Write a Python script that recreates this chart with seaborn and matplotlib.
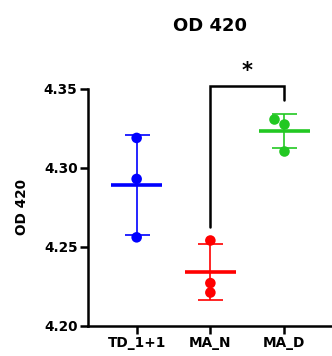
import numpy as np
import pandas as pd
import matplotlib
matplotlib.use("Agg")
import matplotlib.pyplot as plt
import seaborn as sns

groups = ["TD_1+1", "MA_N", "MA_D"]
td_vals = [4.319, 4.293, 4.256]
man_vals = [4.254, 4.227, 4.221]
mad_vals = [4.331, 4.328, 4.311]
colors = ["#0000FF", "#FF0000", "#22C822"]
yticks = [4.20, 4.25, 4.30, 4.35]
title = "OD 420"
ylabel = "OD 420"
sig_label = "*"

df = pd.DataFrame({
    "group": [groups[0]] * len(td_vals) + [groups[1]] * len(man_vals) + [groups[2]] * len(mad_vals),
    "value": td_vals + man_vals + mad_vals,
})

sns.set_style("ticks")
plt.rcParams["font.family"] = ["DejaVu Sans"]
plt.rcParams["font.weight"] = "bold"
plt.rcParams["text.color"] = "black"
plt.rcParams["axes.labelcolor"] = "black"
plt.rcParams["xtick.color"] = "black"
plt.rcParams["ytick.color"] = "black"

fig = plt.figure(figsize=(3.32, 3.56), dpi=100)
ax = fig.add_axes([88 / 332, 1 - 325.7 / 356, (332 - 88) / 332, (325.7 - 89) / 356])

mask_d = df["group"] == groups[2]
sns.stripplot(data=df[~mask_d], x="group", y="value", hue="group", palette=colors[:2],
              order=groups, hue_order=groups[:2], size=7.6, jitter=False, ax=ax,
              legend=False, zorder=3)
sns.swarmplot(data=df[mask_d], x="group", y="value", color=colors[2],
              order=groups, size=7.6, ax=ax, legend=False, zorder=3)

for i, g in enumerate(groups):
    v = df.loc[df["group"] == g, "value"].to_numpy()
    m, sd = v.mean(), v.std(ddof=1)
    ax.errorbar([i], [m], yerr=[sd], color=colors[i], capsize=9, elinewidth=1.2,
                capthick=1.2, fmt="none", zorder=2)
    ax.hlines(m, i - 0.345, i + 0.345, color=colors[i], lw=2.6, zorder=2)

# significance bracket MA_N vs MA_D
ax.plot([1, 1, 2, 2], [4.2627, 4.352, 4.352, 4.343], color="black", lw=1.8,
        clip_on=False, solid_joinstyle="miter")
ax.text(1.5, 4.355, sig_label, ha="center", va="bottom", fontsize=15, fontweight="bold")

ax.set_xlim(-0.66, 2.65)
ax.set_ylim(4.20, 4.35)
ax.set_yticks(yticks)
ax.set_yticklabels([f"{t:.2f}" for t in yticks])
ax.set_xlabel("")
ax.set_ylabel(ylabel, fontsize=9.8, fontweight="bold", labelpad=11)
ax.set_title(title, fontsize=13, fontweight="bold", pad=42)
sns.despine(ax=ax)
for s in ["left", "bottom"]:
    ax.spines[s].set_linewidth(1.8)
    ax.spines[s].set_color("black")
ax.tick_params(axis="both", width=1.8, length=6, color="black", labelsize=9.8, pad=1.5)
for lab in ax.get_xticklabels() + ax.get_yticklabels():
    lab.set_fontweight("bold")

fig.savefig("out.png", dpi=100)
